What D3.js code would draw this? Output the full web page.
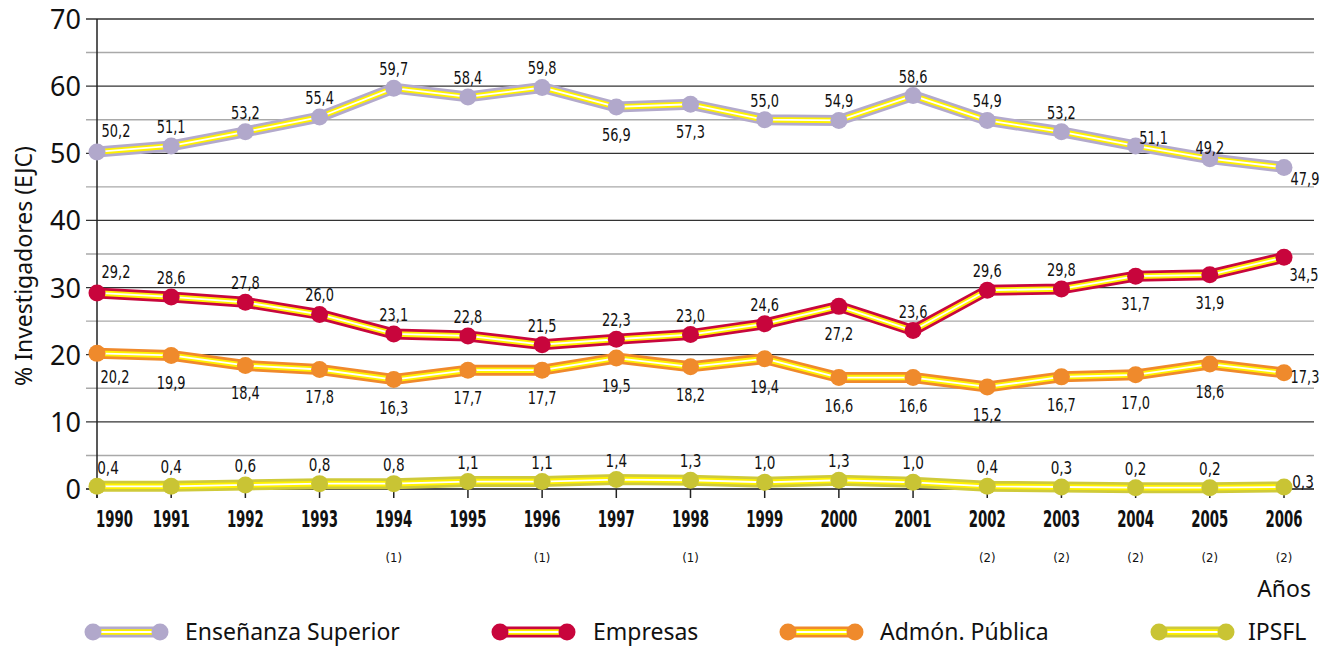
<!DOCTYPE html>
<html>
<head>
<meta charset="utf-8">
<script src="https://cdn.jsdelivr.net/npm/d3@7"></script>
<style>
  body { margin: 0; background: #fff; }
  svg { display: block; }
</style>
</head>
<body>
<div id="chart"></div>
<script>
// data
const years = ['1990','1991','1992','1993','1994','1995','1996','1997','1998','1999','2000','2001','2002','2003','2004','2005','2006'];
const notes = ['','','','','(1)','','(1)','','(1)','','','','(2)','(2)','(2)','(2)','(2)'];

const superior = [50.2,51.1,53.2,55.4,59.7,58.4,59.8,56.9,57.3,55.0,54.9,58.6,54.9,53.2,51.1,49.2,47.9];
const empresas = [29.2,28.6,27.8,26.0,23.1,22.8,21.5,22.3,23.0,24.6,27.2,23.6,29.6,29.8,31.7,31.9,34.5];
const admon    = [20.2,19.9,18.4,17.8,16.3,17.7,17.7,19.5,18.2,19.4,16.6,16.6,15.2,16.7,17.0,18.6,17.3];
const ipsfl    = [0.4,0.4,0.6,0.8,0.8,1.1,1.1,1.4,1.3,1.0,1.3,1.0,0.4,0.3,0.2,0.2,0.3];

const yTicks = [0,10,20,30,40,50,60,70];

// where each value label sits relative to its point
const superiorPos = ['ar','a','a','a','a','a','a','b','b','a','a','a','a','a','ar2','a2','r'];
const empresasPos = ['ar','a','a','a','a','a','a','a','a','a','b','a','a','a','b','b','r2'];
const admonPos    = ['br','b','b','b','b','b','b','b','b','b','b','b','b','b','b','b','rm'];
const ipsflPos    = ['ar3','a','a','a','a','a','a','a','a','a','a','a','a','a','a','a','rt'];

const series = [
  {name: 'Enseñanza Superior', values: superior, pos: superiorPos, color: '#b3aacc', dot: '#b1a8cb'},
  {name: 'Empresas',           values: empresas, pos: empresasPos, color: '#c8073d', dot: '#c8053c'},
  {name: 'Admón. Pública',     values: admon,    pos: admonPos,    color: '#f0892b', dot: '#ef8a2c'},
  {name: 'IPSFL',              values: ipsfl,    pos: ipsflPos,    color: '#cfca3a', dot: '#c9c434'}
];

const offsets = {
  a:   [0, -20], b: [0, 27],
  ar:  [19, -22], ar2: [18, -9], ar3: [11, -19], a2: [0, -12],
  br:  [18, 23],
  r:   [21, 11], r2: [20, 17], rm: [21, 3], rt: [19, -6]
};

const W = 1328, H = 646;
const svg = d3.select('#chart').append('svg')
  .attr('width', W)
  .attr('height', H);

const x = d3.scalePoint()
  .domain(years)
  .range([97, 1284]);
const y = d3.scaleLinear()
  .domain([0, 70])
  .range([489, 19]);

const gridLeft = 86, gridRight = 1314;

// minor grid every 5
svg.append('g').selectAll('line')
  .data(d3.range(5, 70, 10))
  .enter().append('line')
  .attr('x1', gridLeft).attr('x2', gridRight)
  .attr('y1', d => y(d)).attr('y2', d => y(d))
  .attr('stroke', '#a9a9a9').attr('stroke-width', 1.4);

// major grid every 10
svg.append('g').selectAll('line')
  .data(yTicks)
  .enter().append('line')
  .attr('x1', gridLeft).attr('x2', gridRight)
  .attr('y1', d => y(d)).attr('y2', d => y(d))
  .attr('stroke', d => d === 0 ? '#111' : '#333').attr('stroke-width', d => d === 0 ? 1.6 : 1.3);

// y axis line
svg.append('line')
  .attr('x1', 97).attr('x2', 97)
  .attr('y1', y(70)).attr('y2', 498)
  .attr('stroke', '#222').attr('stroke-width', 1.5);

svg.append('g').selectAll('text')
  .data(yTicks)
  .enter().append('text')
  .attr('x', 81)
  .attr('y', d => y(d) + 10)
  .attr('text-anchor', 'end')
  .attr('font-family', '"Noto Sans", sans-serif')
  .attr('font-size', 27)
  .attr('fill', '#111')
  .text(d => d);

svg.append('text')
  .attr('transform', 'translate(32,266) rotate(-90)')
  .attr('text-anchor', 'middle')
  .attr('font-family', '"Noto Sans", sans-serif')
  .attr('font-size', 23)
  .attr('fill', '#111')
  .text('% Investigadores (EJC)');

// x ticks, years, footnotes
const xg = svg.append('g');
xg.selectAll('line')
  .data(years)
  .enter().append('line')
  .attr('x1', d => x(d)).attr('x2', d => x(d))
  .attr('y1', 489).attr('y2', 498)
  .attr('stroke', '#222').attr('stroke-width', 1.5);

xg.selectAll('text.year')
  .data(years)
  .enter().append('text')
  .attr('class', 'year')
  .attr('x', (d, i) => i === 0 ? x(d) - 1 : x(d))
  .attr('y', 527)
  .attr('text-anchor', (d, i) => i === 0 ? 'start' : 'middle')
  .attr('font-family', '"DejaVu Sans", sans-serif')
  .attr('font-stretch', 'condensed')
  .attr('font-weight', 'bold')
  .attr('font-size', 23)
  .attr('textLength', 37)
  .attr('lengthAdjust', 'spacingAndGlyphs')
  .attr('fill', '#111')
  .text(d => d);

xg.selectAll('text.note')
  .data(years)
  .enter().append('text')
  .attr('class', 'note')
  .attr('x', d => x(d))
  .attr('y', 562)
  .attr('text-anchor', 'middle')
  .attr('font-family', '"DejaVu Sans", sans-serif')
  .attr('font-stretch', 'condensed')
  .attr('font-size', 13)
  .attr('fill', '#111')
  .text((d, i) => notes[i]);

svg.append('text')
  .attr('x', 1311)
  .attr('y', 597)
  .attr('text-anchor', 'end')
  .attr('font-family', '"Noto Sans", sans-serif')
  .attr('font-size', 23)
  .attr('fill', '#111')
  .text('Años');

// lines
const line = d3.line()
  .x((d, i) => x(years[i]))
  .y(d => y(d));

function drawLine(g, s, pathData) {
  g.append('path').attr('d', pathData).attr('fill', 'none')
    .attr('stroke', s.color).attr('stroke-width', 11).attr('stroke-linejoin', 'round');
  g.append('path').attr('d', pathData).attr('fill', 'none')
    .attr('stroke', '#fff200').attr('stroke-width', 5.5).attr('stroke-linejoin', 'round');
  g.append('path').attr('d', pathData).attr('fill', 'none')
    .attr('stroke', '#ffffff').attr('stroke-width', 1.8).attr('stroke-linejoin', 'round');
}

const fmt = d => d3.format('.1f')(d).replace('.', ',');

series.forEach(s => {
  const g = svg.append('g');
  drawLine(g, s, line(s.values));
  g.selectAll('circle')
    .data(s.values)
    .enter().append('circle')
    .attr('cx', (d, i) => x(years[i]))
    .attr('cy', d => y(d))
    .attr('r', 8.5)
    .attr('fill', s.dot);
  g.selectAll('text')
    .data(s.values)
    .enter().append('text')
    .attr('x', (d, i) => x(years[i]) + offsets[s.pos[i]][0])
    .attr('y', (d, i) => y(d) + offsets[s.pos[i]][1] + 7)
    .attr('text-anchor', 'middle')
    .attr('font-family', '"DejaVu Sans", sans-serif')
    .attr('font-stretch', 'condensed')
    .attr('font-size', 18)
    .attr('textLength', d => fmt(d).length * 7.2)
    .attr('lengthAdjust', 'spacingAndGlyphs')
    .attr('fill', '#111')
    .text(fmt);
});

// legend
const legendX = [93, 500, 788, 1159];
const legendLabelX = [185, 593, 880, 1248];
const ly = 632;
series.forEach((s, i) => {
  const g = svg.append('g');
  const x1 = legendX[i], x2 = legendX[i] + 67;
  drawLine(g, s, 'M' + x1 + ',' + ly + 'L' + x2 + ',' + ly);
  g.selectAll('circle')
    .data([x1, x2])
    .enter().append('circle')
    .attr('cx', d => d).attr('cy', ly).attr('r', 8.5)
    .attr('fill', s.dot);
  g.append('text')
    .attr('x', legendLabelX[i])
    .attr('y', ly + 8)
    .attr('font-family', '"Noto Sans", sans-serif')
    .attr('font-size', 23)
    .attr('fill', '#111')
    .text(s.name);
});
</script>
</body>
</html>
